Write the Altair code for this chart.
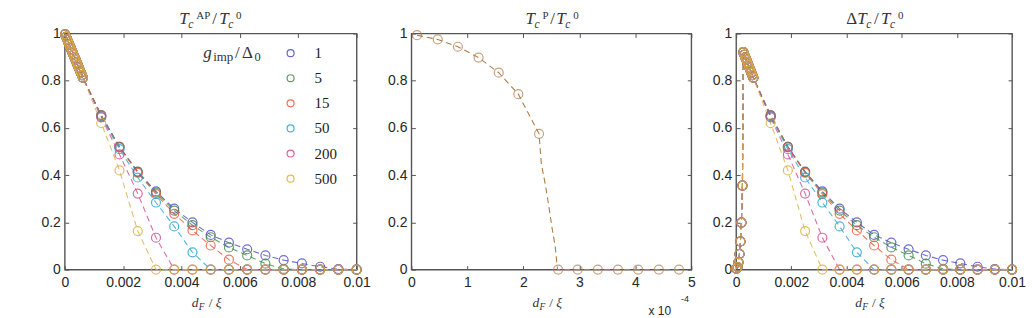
import altair as alt
import pandas as pd

# ---------------- data ----------------
SERIES = ["1", "5", "15", "50", "200", "500"]
COLORS = ["#4b4bc3", "#3f8a48", "#f2563a", "#27a5d3", "#d24b8b", "#d9b13e"]
BROWN = "#b07d4a"

# fine grid of d_F/xi (units of 1e-4)
X_FINE_E4 = [0.10, 0.47, 0.83, 1.20, 1.56, 1.91, 2.28, 2.62, 2.97, 3.33,
             3.69, 4.05, 4.42, 4.78, 5.14, 5.50, 5.86, 6.22]
# T_c^AP / T_c^0 on the fine grid (all six series overlap there)
TAP_FINE = [0.997, 0.986, 0.975, 0.964, 0.953, 0.942, 0.931, 0.921, 0.910, 0.899,
            0.889, 0.878, 0.867, 0.856, 0.845, 0.834, 0.824, 0.813]
# T_c^P / T_c^0 on the fine grid
TP_FINE = [0.993, 0.975, 0.944, 0.898, 0.834, 0.743, 0.575, 0.0, 0.0, 0.0,
           0.0, 0.0, 0.0, 0.0, 0.0, 0.0, 0.0, 0.0]
# Delta T_c / T_c^0 on the fine grid
DT_FINE = [0.004, 0.011, 0.031, 0.066, 0.119, 0.199, 0.356, 0.921, 0.910, 0.899,
           0.889, 0.878, 0.867, 0.856, 0.845, 0.834, 0.824, 0.813]

# dashed curve of the middle panel (units of 1e-4)
TP_LINE_X_E4 = [0.10, 0.47, 0.83, 1.20, 1.56, 1.91, 2.28, 2.32, 2.40, 2.46, 2.51,
                2.57, 2.61, 2.97, 3.33, 3.69, 4.05, 4.42, 4.78]
TP_LINE_Y = [0.993, 0.975, 0.944, 0.898, 0.834, 0.743, 0.575, 0.45, 0.35, 0.26, 0.18,
             0.095, 0.0, 0.0, 0.0, 0.0, 0.0, 0.0, 0.0]

# coarse grid of d_F/xi
X_COARSE = [0.00125, 0.001875, 0.0025, 0.003125, 0.00375, 0.004375, 0.005, 0.005625,
            0.00625, 0.006875, 0.0075, 0.008125, 0.00875, 0.009375, 0.01]
TAP_COARSE = {
    "1":   [0.653, 0.520, 0.415, 0.331, 0.258, 0.200, 0.147, 0.114, 0.086, 0.060, 0.040, 0.026, 0.012, 0.002, 0.0],
    "5":   [0.653, 0.520, 0.413, 0.326, 0.250, 0.188, 0.137, 0.094, 0.060, 0.025, 0.003, 0.0, 0.0, 0.0, 0.0],
    "15":  [0.652, 0.518, 0.410, 0.320, 0.236, 0.166, 0.102, 0.042, 0.0, 0.0, 0.0, 0.0, 0.0, 0.0, 0.0],
    "50":  [0.648, 0.510, 0.390, 0.284, 0.183, 0.073, 0.0, 0.0, 0.0, 0.0, 0.0, 0.0, 0.0, 0.0, 0.0],
    "200": [0.645, 0.488, 0.322, 0.135, 0.0, 0.0, 0.0, 0.0, 0.0, 0.0, 0.0, 0.0, 0.0, 0.0, 0.0],
    "500": [0.620, 0.420, 0.163, 0.0, 0.0, 0.0, 0.0, 0.0, 0.0, 0.0, 0.0, 0.0, 0.0, 0.0, 0.0],
}

X_TICKS = [0, 0.002, 0.004, 0.006, 0.008, 0.01]
X_TICKS_MID = [0, 1, 2, 3, 4, 5]
Y_TICKS = [0, 0.2, 0.4, 0.6, 0.8, 1]

# ---------------- tables ----------------
def series_frame(fine_vals):
    rows = []
    for g in SERIES:
        xs = [v * 1e-4 for v in X_FINE_E4] + X_COARSE
        ys = fine_vals + TAP_COARSE[g]
        for x, y in zip(xs, ys):
            rows.append({"g": g, "x": x, "y": y})
    return pd.DataFrame(rows)

df_ap = series_frame(TAP_FINE)
df_dt = series_frame(DT_FINE)
df_p = pd.DataFrame({"x": X_FINE_E4, "y": TP_FINE})
df_pl = pd.DataFrame({"x": TP_LINE_X_E4, "y": TP_LINE_Y})
one = pd.DataFrame({"k": [0]})

# ---------------- style ----------------
H = 237
W1, W2, W3 = 293, 281, 277
SANS = "Liberation Sans"
SERIF = "Liberation Serif"
LAB = "#262626"
TXT = "#333333"
GRID = "#555555"
FS = "\u2007"
OP = 0.8

color_scale = alt.Scale(domain=SERIES, range=COLORS)


def x_axis(values, fmt):
    return alt.Axis(values=values, format=fmt, title=None, domain=False, ticks=False,
                    grid=True, gridDash=[4, H - 8, 4, 2000], gridColor=GRID, gridWidth=1,
                    gridOpacity=1, labelFont=SANS, labelFontSize=14, labelColor=LAB,
                    labelPadding=6, labelOverlap=False, labelFlush=False)


def y_axis(W):
    return alt.Axis(values=Y_TICKS, format=".1~f", title=None, domain=False, ticks=False,
                    labelExpr="(datum.value == 0 || datum.value == 1) ? datum.label : datum.label + '" + FS + "'",
                    grid=True, gridDash=[4, W - 8, 4, 2000], gridColor=GRID, gridWidth=1,
                    gridOpacity=1, labelFont=SANS, labelFontSize=14, labelColor=LAB,
                    labelPadding=4.5, labelFlush=False)


def seg(text, x, y, size, italic=False, font=SERIF, color=TXT):
    return alt.Chart(one).mark_text(
        text=text, font=font, fontSize=size, fontStyle="italic" if italic else "normal",
        align="left", baseline="alphabetic", color=color
    ).encode(x=alt.value(x), y=alt.value(y))


def xlabel(W):
    s = W / 2 - 19
    b = H + 38
    return [seg("d", s, b, 13.5, True), seg("F", s + 7, b + 3, 9.5, True),
            seg("/", s + 17, b, 13.5), seg("\u03be", s + 24, b, 13.5, True)]


def title_tc(W, sup):
    s = W / 2 - 31.5 if sup == "AP" else W / 2 - 26
    b = -10
    if sup == "AP":
        offs = [0, 9, 17, 33, 40, 49, 57]
    else:
        offs = [0, 9, 17, 25, 31, 40, 48]
    return [seg("T", s + offs[0], b, 17, True), seg("c", s + offs[1], b + 4, 11.5, True),
            seg(sup, s + offs[2], b - 5, 11), seg("/", s + offs[3], b, 17),
            seg("T", s + offs[4], b, 17, True), seg("c", s + offs[5], b + 4, 11.5, True),
            seg("0", s + offs[6], b - 5, 11)]


def title_dt(W):
    s = W / 2 - 28
    b = -10
    return [seg("\u0394", s, b, 17), seg("T", s + 11, b, 17, True),
            seg("c", s + 20, b + 4, 11.5, True), seg("/", s + 28, b, 17),
            seg("T", s + 35, b, 17, True), seg("c", s + 44, b + 4, 11.5, True),
            seg("0", s + 52, b - 5, 11)]


def legend_title():
    s = 139
    b = 24.7
    return [seg("g", s, b, 17, True), seg("imp", s + 10, b + 3, 13),
            seg("/", s + 32, b, 17), seg("\u0394", s + 39, b, 17),
            seg("0", s + 51.5, b + 3, 12.5)]


def series_panel(df, W, legend, titles):
    xe = alt.X("x:Q", scale=alt.Scale(domain=[0, 0.01], nice=False), axis=x_axis(X_TICKS, ".3~f"))
    ye = alt.Y("y:Q", scale=alt.Scale(domain=[0, 1], nice=False), axis=y_axis(W))
    ce = alt.Color("g:N", scale=color_scale, legend=legend)
    lines = alt.Chart(df).mark_line(strokeDash=[6, 4], strokeWidth=1.1, opacity=OP).encode(
        x=xe, y=ye, color=ce)
    pts = alt.Chart(df).mark_point(shape="circle", filled=False, size=81, strokeWidth=1.2,
                                   opacity=OP).encode(x=xe, y=ye, color=ce)
    return alt.layer(lines, pts, *titles, *xlabel(W)).properties(width=W, height=H)


leg = alt.Legend(title=None, orient="none", legendX=219.2, legendY=12.2, padding=0,
                 labelFont=SERIF, labelFontSize=15, labelColor="#222222", labelOffset=16.5,
                 rowPadding=9.2, symbolSize=49, symbolStrokeWidth=1.2, symbolType="circle",
                 symbolFillColor="transparent", symbolOpacity=0.85)

p1 = series_panel(df_ap, W1, leg, title_tc(W1, "AP") + legend_title())
p3 = series_panel(df_dt, W3, None, title_dt(W3))

xm = alt.X("x:Q", scale=alt.Scale(domain=[0, 5], nice=False), axis=x_axis(X_TICKS_MID, "d"))
ym = alt.Y("y:Q", scale=alt.Scale(domain=[0, 1], nice=False), axis=y_axis(W2))
mid_line = alt.Chart(df_pl).mark_line(strokeDash=[6, 4], strokeWidth=1.1, color=BROWN).encode(x=xm, y=ym)
mid_pts = alt.Chart(df_p).transform_filter("datum.x <= 5").mark_point(
    shape="circle", filled=False, size=81, strokeWidth=1.2, color=BROWN).encode(x=xm, y=ym)
p2 = alt.layer(mid_line, mid_pts, *title_tc(W2, "P"), *xlabel(W2),
               seg("x 10", 238, H + 45.7, 12, font=SANS, color=LAB),
               seg("-4", 270.7, H + 32.7, 9, font=SANS, color=LAB)).properties(width=W2, height=H)

chart = alt.hconcat(p1, p2, p3, spacing=15).resolve_scale(
    color="independent"
).resolve_legend(
    color="independent"
).properties(
    padding={"left": 32, "top": 0, "right": 0, "bottom": 0}
).configure_view(
    stroke="#555555", strokeWidth=1.4
)

chart.save("out.html", embed_options={"renderer": "svg", "actions": False})
